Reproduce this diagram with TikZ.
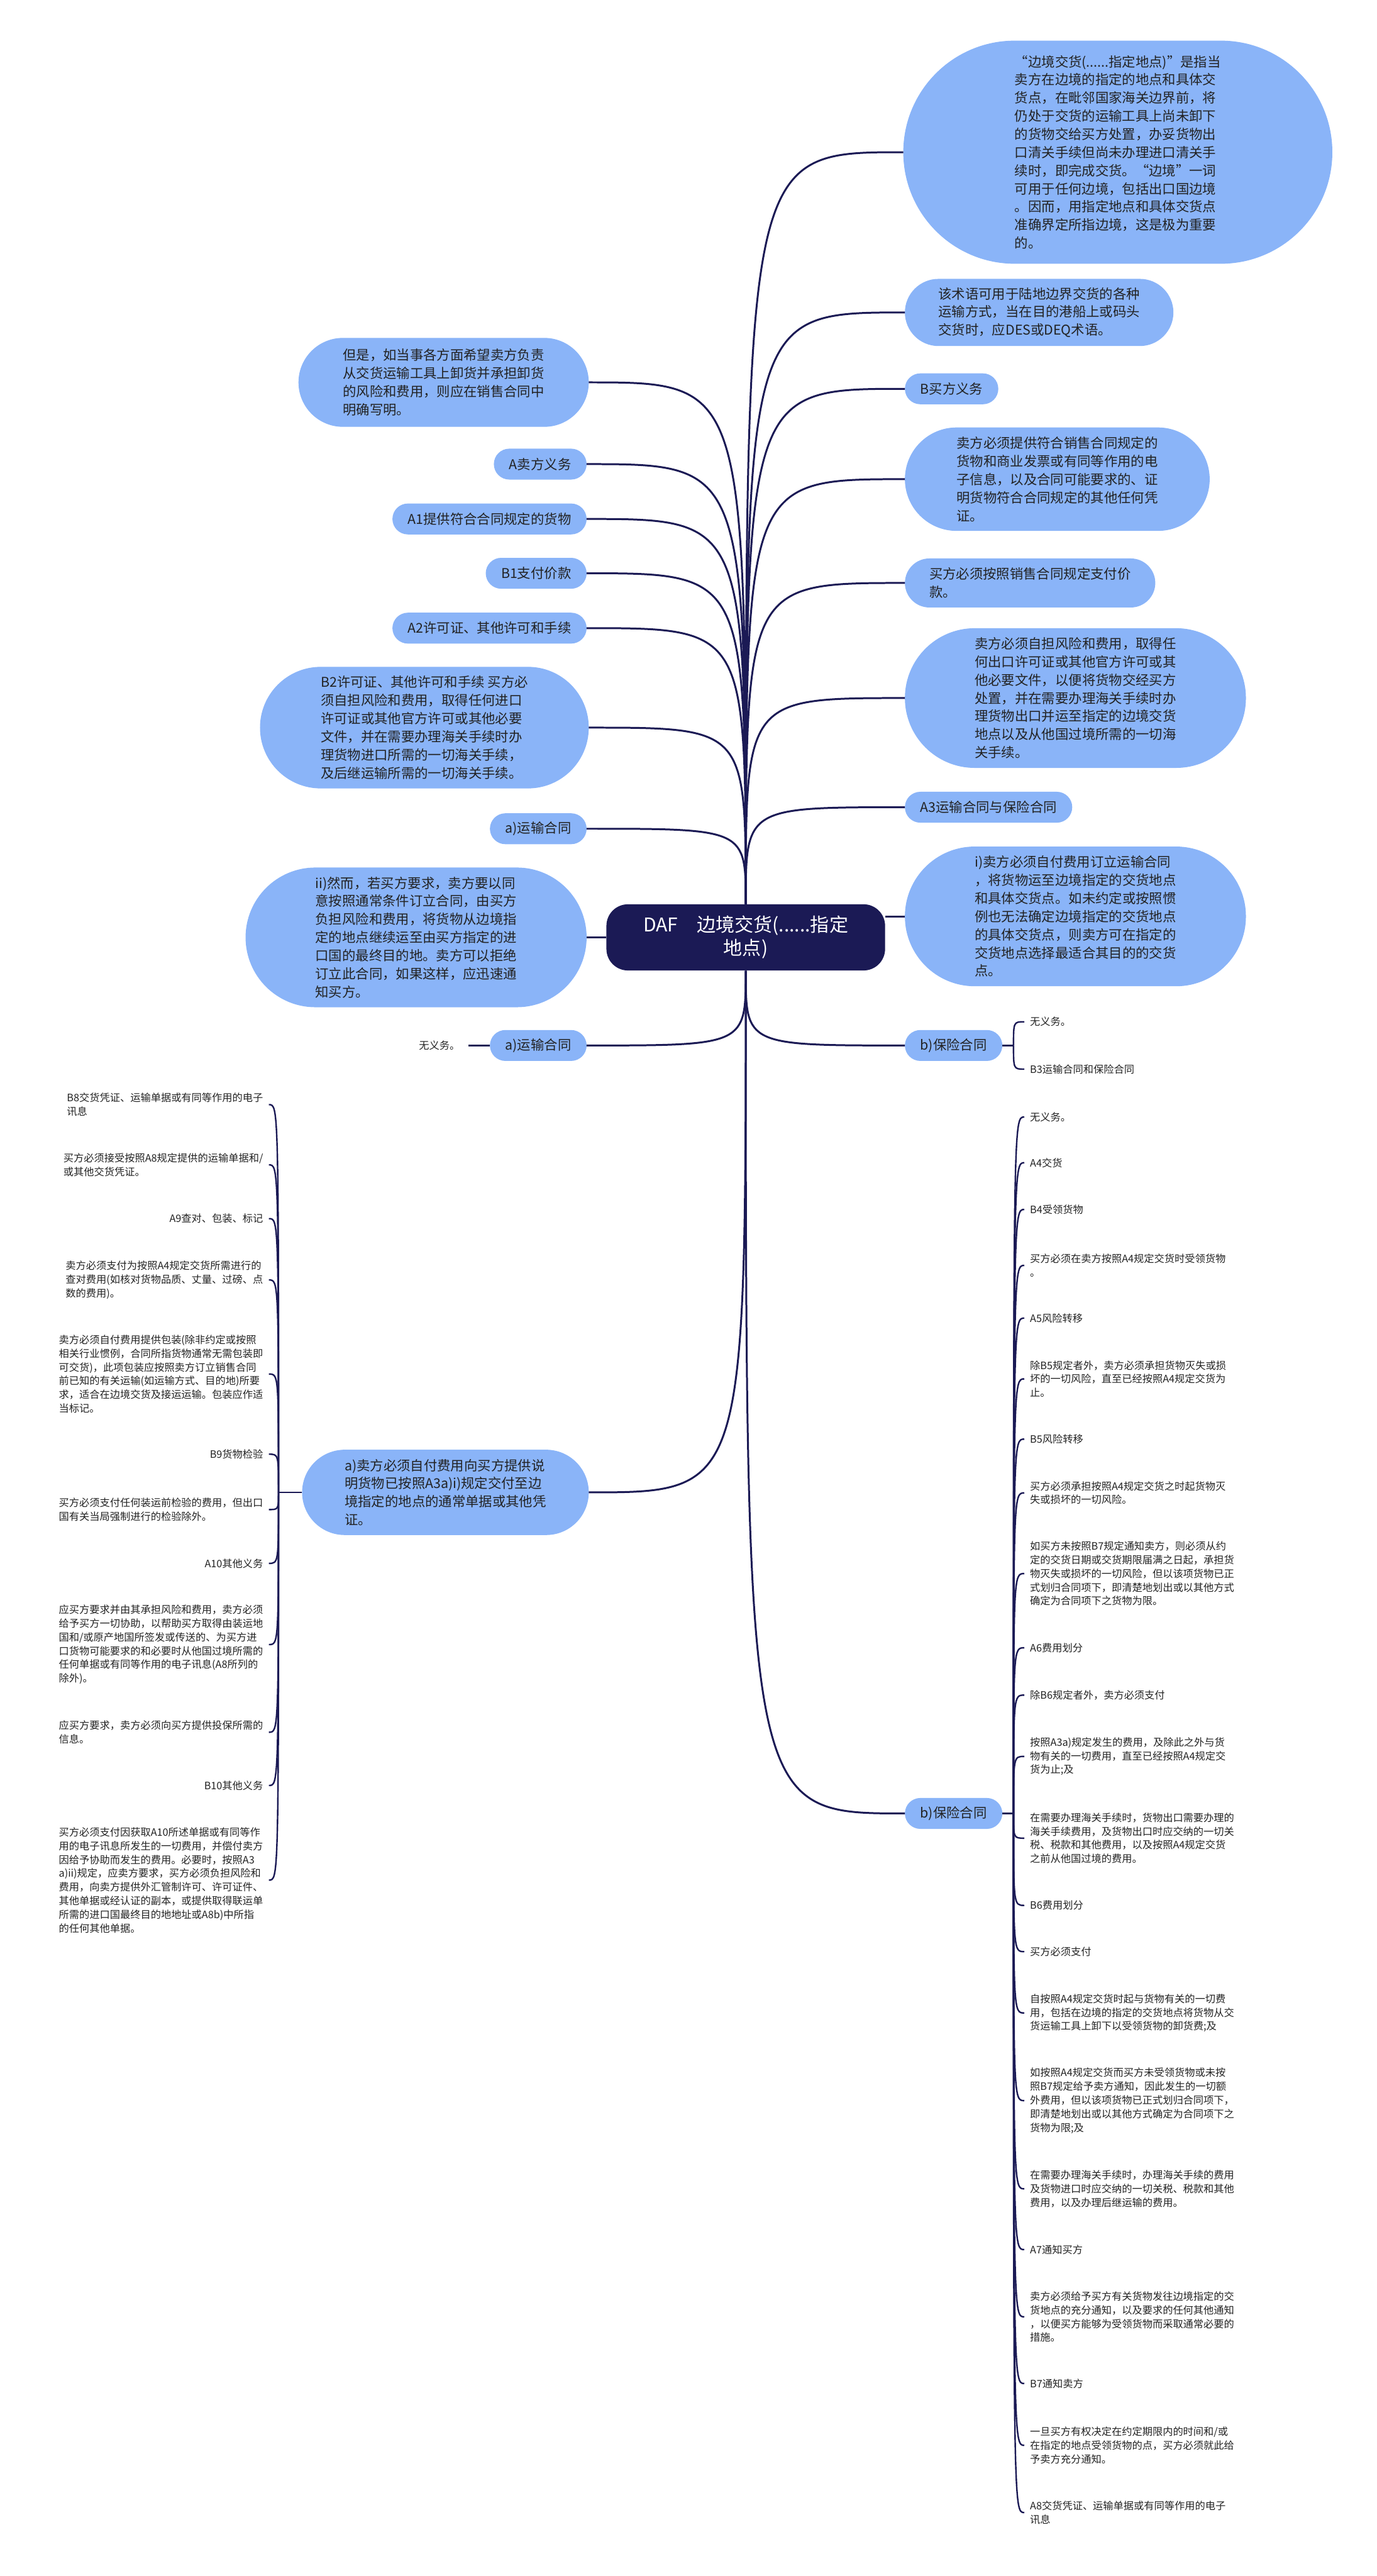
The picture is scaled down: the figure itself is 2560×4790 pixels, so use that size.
\documentclass[tikz,border=0pt]{standalone}
\usepackage{fontspec}
\setmainfont{Noto Sans CJK SC}
\usetikzlibrary{calc}

\definecolor{deepnavy}{RGB}{27,26,85}
\definecolor{bubble}{RGB}{138,180,248}
\definecolor{ink}{RGB}{34,34,34}

\begin{document}
\begin{tikzpicture}[x=0.01cm,y=-0.01cm,
    root/.style={rectangle,rounded corners=0.4cm,fill=deepnavy,text=white,minimum width=5.18cm,minimum height=1.23cm,align=center,font=\fontsize{10}{12.2}\selectfont},
    pill/.code={\pgfmathsetmacro\pillh{(#1-1)*0.337+0.56}\pgfmathsetmacro\pillr{\pillh/2}%
        \tikzset{minimum height=\pillh cm,rounded corners=\pillr cm,inner xsep=\pillr cm}},
    topic/.style={rectangle,fill=bubble,draw=bubble,align=left,inner ysep=0pt,text=ink,font=\fontsize{7.1}{9.6}\selectfont,pill=#1},
    topic/.default=1,
    leaf/.style={align=left,inner xsep=0.1cm,inner ysep=0.05cm,text=ink,font=\fontsize{5.4}{7.25}\selectfont},
    link/.style={draw=deepnavy,line width=0.035cm},
    twig/.style={draw=deepnavy,line width=0.028cm}
]
    \useasboundingbox (0,0) rectangle (2560,4790);

    % Centre
    \node[root] (root) at (1387,1743) {DAF\quad 边境交货(......指定\\地点)};

    % Right branches
    \node[topic=11.6,anchor=west] (r1) at (1680,283) {“边境交货(......指定地点)”是指当\\卖方在边境的指定的地点和具体交\\货点，在毗邻国家海关边界前，将\\仍处于交货的运输工具上尚未卸下\\的货物交给买方处置，办妥货物出\\口清关手续但尚未办理进口清关手\\续时，即完成交货。“边境”一词\\可用于任何边境，包括出口国边境\\。因而，用指定地点和具体交货点\\准确界定所指边境，这是极为重要\\的。};
    \node[topic=3,anchor=west] (r2) at (1683,581) {该术语可用于陆地边界交货的各种\\运输方式，当在目的港船上或码头\\交货时，应DES或DEQ术语。};
    \node[topic,anchor=west] (r3) at (1683,723) {B买方义务};
    \node[topic=5,anchor=west] (r4) at (1683,891) {卖方必须提供符合销售合同规定的\\货物和商业发票或有同等作用的电\\子信息，以及合同可能要求的、证\\明货物符合合同规定的其他任何凭\\证。};
    \node[topic=2,anchor=west] (r5) at (1683,1084) {买方必须按照销售合同规定支付价\\款。};
    \node[topic=7,anchor=west] (r6) at (1683,1298) {卖方必须自担风险和费用，取得任\\何出口许可证或其他官方许可或其\\他必要文件，以便将货物交经买方\\处置，并在需要办理海关手续时办\\理货物出口并运至指定的边境交货\\地点以及从他国过境所需的一切海\\关手续。};
    \node[topic,anchor=west] (r7) at (1683,1501) {A3运输合同与保险合同};
    \node[topic=7,anchor=west] (r8) at (1683,1704) {i)卖方必须自付费用订立运输合同\\，将货物运至边境指定的交货地点\\和具体交货点。如未约定或按照惯\\例也无法确定边境指定的交货地点\\的具体交货点，则卖方可在指定的\\交货地点选择最适合其目的的交货\\点。};
    \node[topic,anchor=west] (r9) at (1683,1944) {b)保险合同};
    \node[topic,anchor=west] (r10) at (1683,3372) {b)保险合同};

    % Left branches
    \node[topic=4.2,anchor=east] (l1) at (1095,711) {但是，如当事各方面希望卖方负责\\从交货运输工具上卸货并承担卸货\\的风险和费用，则应在销售合同中\\明确写明。};
    \node[topic,anchor=east] (l2) at (1091,863) {A卖方义务};
    \node[topic,anchor=east] (l3) at (1091,965) {A1提供符合合同规定的货物};
    \node[topic,anchor=east] (l4) at (1091,1066) {B1支付价款};
    \node[topic,anchor=east] (l5) at (1091,1168) {A2许可证、其他许可和手续};
    \node[topic=6,anchor=east] (l6) at (1095,1353) {B2许可证、其他许可和手续 买方必\\须自担风险和费用，取得任何进口\\许可证或其他官方许可或其他必要\\文件，并在需要办理海关手续时办\\理货物进口所需的一切海关手续，\\及后继运输所需的一切海关手续。};
    \node[topic,anchor=east] (l7) at (1091,1541) {a)运输合同};
    \node[topic=7,anchor=east] (l8) at (1091,1743) {ii)然而，若买方要求，卖方要以同\\意按照通常条件订立合同，由买方\\负担风险和费用，将货物从边境指\\定的地点继续运至由买方指定的进\\口国的最终目的地。卖方可以拒绝\\订立此合同，如果这样，应迅速通\\知买方。};
    \node[topic,anchor=east] (l9) at (1091,1944) {a)运输合同};
    \node[topic=4,anchor=east] (l10) at (1095,2775) {a)卖方必须自付费用向买方提供说\\明货物已按照A3a)i)规定交付至边\\境指定的地点的通常单据或其他凭\\证。};

    % Leaves
    \node[leaf,anchor=east,inner xsep=0.15cm] (lc1) at (871,1944) {无义务。};
    \node[leaf,anchor=west] (rc1) at (1905,1900) {无义务。};
    \node[leaf,anchor=west] (rc2) at (1905,1988) {B3运输合同和保险合同};

    \node[leaf,anchor=east] (la1) at (500,2054) {B8交货凭证、运输单据或有同等作用的电子\\讯息};
    \node[leaf,anchor=east] (la2) at (500,2166) {买方必须接受按照A8规定提供的运输单据和/\\或其他交货凭证。};
    \node[leaf,anchor=east] (la3) at (500,2266) {A9查对、包装、标记};
    \node[leaf,anchor=east] (la4) at (500,2380) {卖方必须支付为按照A4规定交货所需进行的\\查对费用(如核对货物品质、丈量、过磅、点\\数的费用)。};
    \node[leaf,anchor=east] (la5) at (500,2555) {卖方必须自付费用提供包装(除非约定或按照\\相关行业惯例，合同所指货物通常无需包装即\\可交货)，此项包装应按照卖方订立销售合同\\前已知的有关运输(如运输方式、目的地)所要\\求，适合在边境交货及接运运输。包装应作适\\当标记。};
    \node[leaf,anchor=east] (la6) at (500,2704) {B9货物检验};
    \node[leaf,anchor=east] (la7) at (500,2807) {买方必须支付任何装运前检验的费用，但出口\\国有关当局强制进行的检验除外。};
    \node[leaf,anchor=east] (la8) at (500,2907) {A10其他义务};
    \node[leaf,anchor=east] (la9) at (500,3058) {应买方要求并由其承担风险和费用，卖方必须\\给予买方一切协助，以帮助买方取得由装运地\\国和/或原产地国所签发或传送的、为买方进\\口货物可能要求的和必要时从他国过境所需的\\任何单据或有同等作用的电子讯息(A8所列的\\除外)。};
    \node[leaf,anchor=east] (la10) at (500,3221) {应买方要求，卖方必须向买方提供投保所需的\\信息。};
    \node[leaf,anchor=east] (la11) at (500,3320) {B10其他义务};
    \node[leaf,anchor=east] (la12) at (500,3496) {买方必须支付因获取A10所述单据或有同等作\\用的电子讯息所发生的一切费用，并偿付卖方\\因给予协助而发生的费用。必要时，按照A3\\a)ii)规定，应卖方要求，买方必须负担风险和\\费用，向卖方提供外汇管制许可、许可证件、\\其他单据或经认证的副本，或提供取得联运单\\所需的进口国最终目的地地址或A8b)中所指\\的任何其他单据。};

    \node[leaf,anchor=west] (rb1) at (1905,2077) {无义务。};
    \node[leaf,anchor=west] (rb2) at (1905,2162) {A4交货};
    \node[leaf,anchor=west] (rb3) at (1905,2249) {B4受领货物};
    \node[leaf,anchor=west] (rb4) at (1905,2353) {买方必须在卖方按照A4规定交货时受领货物\\。};
    \node[leaf,anchor=west] (rb5) at (1905,2451) {A5风险转移};
    \node[leaf,anchor=west] (rb6) at (1905,2564) {除B5规定者外，卖方必须承担货物灭失或损\\坏的一切风险，直至已经按照A4规定交货为\\止。};
    \node[leaf,anchor=west] (rb7) at (1905,2676) {B5风险转移};
    \node[leaf,anchor=west] (rb8) at (1905,2776) {买方必须承担按照A4规定交货之时起货物灭\\失或损坏的一切风险。};
    \node[leaf,anchor=west] (rb9) at (1905,2926) {如买方未按照B7规定通知卖方，则必须从约\\定的交货日期或交货期限届满之日起，承担货\\物灭失或损坏的一切风险，但以该项货物已正\\式划归合同项下，即清楚地划出或以其他方式\\确定为合同项下之货物为限。};
    \node[leaf,anchor=west] (rb10) at (1905,3064) {A6费用划分};
    \node[leaf,anchor=west] (rb11) at (1905,3152) {除B6规定者外，卖方必须支付};
    \node[leaf,anchor=west] (rb12) at (1905,3266) {按照A3a)规定发生的费用，及除此之外与货\\物有关的一切费用，直至已经按照A4规定交\\货为止;及};
    \node[leaf,anchor=west] (rb13) at (1905,3418) {在需要办理海关手续时，货物出口需要办理的\\海关手续费用，及货物出口时应交纳的一切关\\税、税款和其他费用，以及按照A4规定交货\\之前从他国过境的费用。};
    \node[leaf,anchor=west] (rb14) at (1905,3543) {B6费用划分};
    \node[leaf,anchor=west] (rb15) at (1905,3629) {买方必须支付};
    \node[leaf,anchor=west] (rb16) at (1905,3743) {自按照A4规定交货时起与货物有关的一切费\\用，包括在边境的指定的交货地点将货物从交\\货运输工具上卸下以受领货物的卸货费;及};
    \node[leaf,anchor=west] (rb17) at (1905,3906) {如按照A4规定交货而买方未受领货物或未按\\照B7规定给予卖方通知，因此发生的一切额\\外费用，但以该项货物已正式划归合同项下，\\即清楚地划出或以其他方式确定为合同项下之\\货物为限;及};
    \node[leaf,anchor=west] (rb18) at (1905,4070) {在需要办理海关手续时，办理海关手续的费用\\及货物进口时应交纳的一切关税、税款和其他\\费用，以及办理后继运输的费用。};
    \node[leaf,anchor=west] (rb19) at (1905,4183) {A7通知买方};
    \node[leaf,anchor=west] (rb20) at (1905,4308) {卖方必须给予买方有关货物发往边境指定的交\\货地点的充分通知，以及要求的任何其他通知\\，以便买方能够为受领货物而采取通常必要的\\措施。};
    \node[leaf,anchor=west] (rb21) at (1905,4432) {B7通知卖方};
    \node[leaf,anchor=west] (rb22) at (1905,4547) {一旦买方有权决定在约定期限内的时间和/或\\在指定的地点受领货物的点，买方必须就此给\\予卖方充分通知。};
    \node[leaf,anchor=west] (rb23) at (1905,4672) {A8交货凭证、运输单据或有同等作用的电子\\讯息};

    % Links from the centre
    \foreach \n in {r1,r2,r3,r4,r5,r6,r7} {
        \draw[link] (root.north) .. controls (root.north |- \n.west) .. (\n.west);
    }
    \foreach \n in {l1,l2,l3,l4,l5,l6,l7} {
        \draw[link] (root.north) .. controls (root.north |- \n.east) .. (\n.east);
    }
    \foreach \n in {r9,r10} {
        \draw[link] (root.south) .. controls (root.south |- \n.west) .. (\n.west);
    }
    \foreach \n in {l9,l10} {
        \draw[link] (root.south) .. controls (root.south |- \n.east) .. (\n.east);
    }
    \draw[link] (root.east |- r8.west) -- (r8.west);
    \draw[link] (root.west |- l8.east) -- (l8.east);

    % Brackets to the leaves
    \draw[twig] (l9.west) -- (lc1.east);
    \coordinate (ra) at (1885,1944);
    \draw[twig] (r9.east) -- (ra);
    \foreach \n in {rc1,rc2} {
        \draw[twig] (ra) .. controls (ra |- \n.west) .. (\n.west);
    }
    \coordinate (lb) at (518,2775);
    \draw[twig] (l10.west) -- (lb);
    \foreach \n in {1,...,12} {
        \draw[twig] (lb) .. controls (lb |- la\n.east) .. (la\n.east);
    }
    \coordinate (rb) at (1885,3372);
    \draw[twig] (r10.east) -- (rb);
    \foreach \n in {1,...,23} {
        \draw[twig] (rb) .. controls (rb |- rb\n.west) .. (rb\n.west);
    }
\end{tikzpicture}
\end{document}
